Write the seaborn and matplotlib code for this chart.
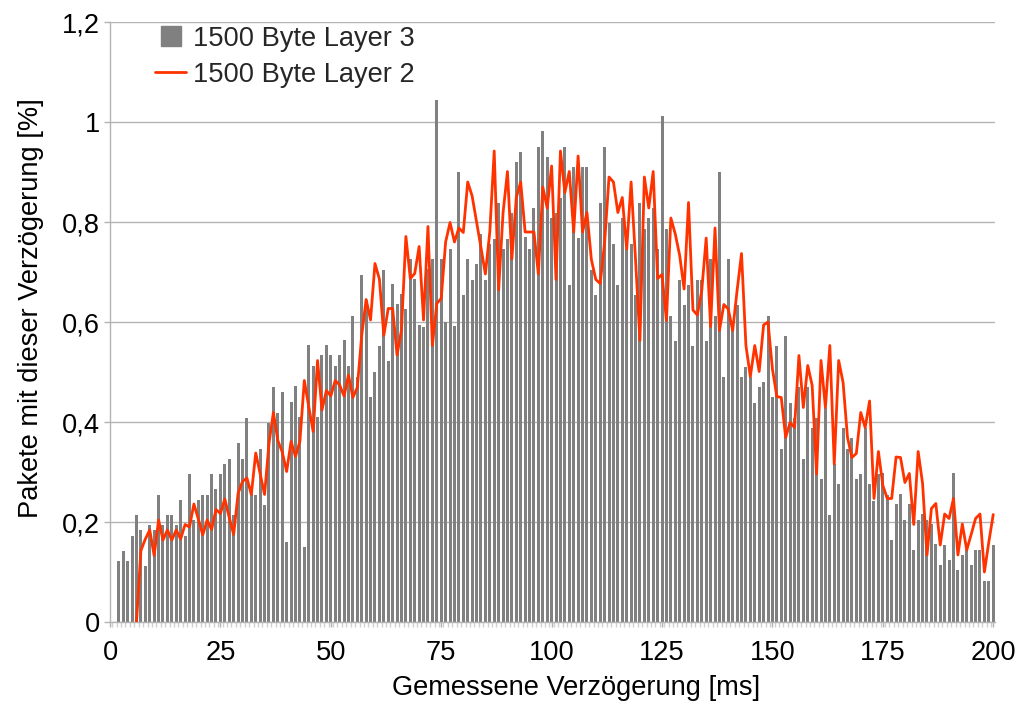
import matplotlib
matplotlib.use("Agg")
import matplotlib.pyplot as plt
from matplotlib.lines import Line2D
import seaborn as sns

# ---------------- data ----------------
bar_ms = list(range(2, 201))
bar_vals = [
    0.123, 0.143, 0.123, 0.173, 0.215, 0.185, 0.113, 0.195, 0.185, 0.255,
    0.195, 0.215, 0.215, 0.195, 0.245, 0.173, 0.297, 0.205, 0.245, 0.255,
    0.255, 0.297, 0.267, 0.297, 0.317, 0.327, 0.215, 0.359, 0.327, 0.409,
    0.256, 0.255, 0.347, 0.235, 0.399, 0.471, 0.419, 0.461, 0.160, 0.440,
    0.472, 0.410, 0.150, 0.554, 0.512, 0.410, 0.534, 0.554, 0.534, 0.512,
    0.534, 0.565, 0.512, 0.613, 0.491, 0.695, 0.645, 0.451, 0.501, 0.553,
    0.705, 0.522, 0.676, 0.636, 0.656, 0.626, 0.727, 0.686, 0.594, 0.590,
    0.706, 0.727, 1.045, 0.727, 0.600, 0.747, 0.592, 0.901, 0.654, 0.726,
    0.685, 0.717, 0.777, 0.685, 0.757, 0.766, 0.839, 0.747, 0.766, 0.819,
    0.921, 0.941, 0.770, 0.747, 0.828, 0.951, 0.983, 0.931, 0.809, 0.819,
    0.849, 0.951, 0.674, 0.911, 0.768, 0.911, 0.911, 0.704, 0.654, 0.839,
    0.951, 0.799, 0.757, 0.674, 0.809, 0.747, 0.757, 0.654, 0.839, 0.787,
    0.809, 0.828, 0.747, 1.012, 0.786, 0.613, 0.563, 0.684, 0.635, 0.675,
    0.553, 0.684, 0.684, 0.563, 0.726, 0.613, 0.900, 0.491, 0.726, 0.593,
    0.635, 0.491, 0.511, 0.491, 0.439, 0.471, 0.481, 0.613, 0.451, 0.553,
    0.347, 0.573, 0.439, 0.409, 0.471, 0.327, 0.471, 0.389, 0.409, 0.287,
    0.429, 0.215, 0.316, 0.277, 0.389, 0.347, 0.369, 0.287, 0.297, 0.389,
    0.277, 0.243, 0.297, 0.299, 0.255, 0.164, 0.236, 0.256, 0.205, 0.236,
    0.144, 0.205, 0.216, 0.205, 0.196, 0.156, 0.114, 0.154, 0.124, 0.299,
    0.104, 0.134, 0.144, 0.114, 0.144, 0.144, 0.083, 0.083, 0.154,
]

line_ms = list(range(6, 201))
line_vals = [
    0.000, 0.143, 0.166, 0.184, 0.133, 0.204, 0.164, 0.184, 0.164, 0.184,
    0.166, 0.195, 0.190, 0.236, 0.206, 0.174, 0.204, 0.185, 0.225, 0.217,
    0.246, 0.209, 0.175, 0.257, 0.281, 0.288, 0.255, 0.338, 0.296, 0.255,
    0.357, 0.419, 0.363, 0.340, 0.301, 0.361, 0.331, 0.361, 0.483, 0.431,
    0.381, 0.523, 0.424, 0.463, 0.452, 0.483, 0.474, 0.452, 0.494, 0.449,
    0.469, 0.573, 0.645, 0.604, 0.717, 0.686, 0.573, 0.627, 0.627, 0.534,
    0.584, 0.771, 0.687, 0.697, 0.751, 0.604, 0.791, 0.553, 0.637, 0.647,
    0.760, 0.799, 0.760, 0.788, 0.779, 0.880, 0.852, 0.801, 0.749, 0.696,
    0.780, 0.942, 0.664, 0.818, 0.901, 0.726, 0.849, 0.880, 0.780, 0.780,
    0.780, 0.696, 0.870, 0.828, 0.912, 0.685, 0.942, 0.859, 0.901, 0.780,
    0.932, 0.780, 0.819, 0.725, 0.685, 0.677, 0.759, 0.890, 0.880, 0.819,
    0.849, 0.746, 0.880, 0.725, 0.563, 0.890, 0.828, 0.901, 0.687, 0.695,
    0.603, 0.808, 0.776, 0.733, 0.666, 0.839, 0.624, 0.614, 0.663, 0.768,
    0.591, 0.788, 0.583, 0.635, 0.626, 0.583, 0.663, 0.737, 0.553, 0.491,
    0.553, 0.501, 0.594, 0.600, 0.506, 0.451, 0.449, 0.369, 0.399, 0.389,
    0.533, 0.429, 0.513, 0.473, 0.296, 0.523, 0.429, 0.553, 0.316, 0.523,
    0.479, 0.369, 0.329, 0.337, 0.419, 0.389, 0.442, 0.247, 0.341, 0.273,
    0.247, 0.247, 0.330, 0.329, 0.279, 0.297, 0.195, 0.341, 0.277, 0.134,
    0.227, 0.237, 0.154, 0.216, 0.207, 0.247, 0.134, 0.196, 0.144, 0.175,
    0.207, 0.216, 0.100, 0.160, 0.215,
]

series_bar = "1500 Byte Layer 3"
series_line = "1500 Byte Layer 2"
x_label = "Gemessene Verzögerung [ms]"
y_label = "Pakete mit dieser Verzögerung [%]"
x_ticks = [0, 25, 50, 75, 100, 125, 150, 175, 200]
y_ticks = [0, 0.2, 0.4, 0.6, 0.8, 1.0, 1.2]
y_tick_labels = ["0", "0,2", "0,4", "0,6", "0,8", "1", "1,2"]

# ---------------- style ----------------
sns.set_theme(style="white")
plt.rcParams["font.family"] = ["Liberation Sans", "DejaVu Sans"]
FS = 19.6
GRID = "#b3b3b3"
BAR_C = "#808080"
LINE_C = "#ff3300"

W, H = 1019, 702
fig = plt.figure(figsize=(W / 100, H / 100), dpi=100)
fig.patch.set_facecolor("white")
ax = fig.add_axes([110 / W, (H - 622) / H, 885 / W, 600 / H])
ax.set_facecolor("white")

sns.barplot(x=bar_ms, y=bar_vals, native_scale=True, color=BAR_C,
            saturation=1, width=0.68, linewidth=0, ax=ax, zorder=2)
sns.lineplot(x=line_ms, y=line_vals, color=LINE_C, linewidth=2.0,
             estimator=None, ax=ax, zorder=3)

ax.set_xlim(0, 200.4)
ax.set_ylim(0, 1.2)
ax.set_xticks(x_ticks)
ax.set_xticklabels([str(t) for t in x_ticks])
ax.set_xticks([m + 0.5 for m in range(0, 200)], minor=True)
ax.set_yticks(y_ticks)
ax.set_yticklabels(y_tick_labels)

ax.set_axisbelow(True)
ax.yaxis.grid(True, color=GRID, linewidth=1.0)
ax.xaxis.grid(False)
for s in ["top", "right"]:
    ax.spines[s].set_visible(False)
for s in ["left", "bottom"]:
    ax.spines[s].set_color(GRID)
    ax.spines[s].set_linewidth(1.0)

ax.tick_params(axis="y", which="major", length=4.3, width=1, color=GRID,
               direction="out", pad=3, labelsize=FS, labelcolor="black", left=True)
ax.tick_params(axis="x", which="major", length=3.6, width=1, color=GRID,
               direction="out", pad=9.5, labelsize=FS, labelcolor="black", bottom=True)
ax.tick_params(axis="x", which="minor", length=3.6, width=1, color="#d0d0d0",
               direction="out", bottom=True)

ax.set_xlabel(x_label, fontsize=FS, color="black")
ax.set_ylabel(y_label, fontsize=FS, color="black")
ax.xaxis.label.set_va("center")
ax.xaxis.set_label_coords((576 - 110) / 885, (622 - 688) / 600)
ax.yaxis.label.set_va("center")
ax.yaxis.set_label_coords((31 - 110) / 885, (622 - 308) / 600)

handles = [
    Line2D([], [], marker="s", markersize=15, linestyle="none",
           markerfacecolor=BAR_C, markeredgecolor=BAR_C),
    Line2D([], [], color=LINE_C, linewidth=2.0),
]
leg = fig.legend(handles, [series_bar, series_line], loc="upper left",
                 bbox_to_anchor=(155 / W, 1 - 26 / H), frameon=False,
                 fontsize=FS, handlelength=1.15, handletextpad=0.26,
                 labelspacing=0.36, borderpad=0, borderaxespad=0)

fig.savefig("out.png", dpi=100, facecolor="white")
